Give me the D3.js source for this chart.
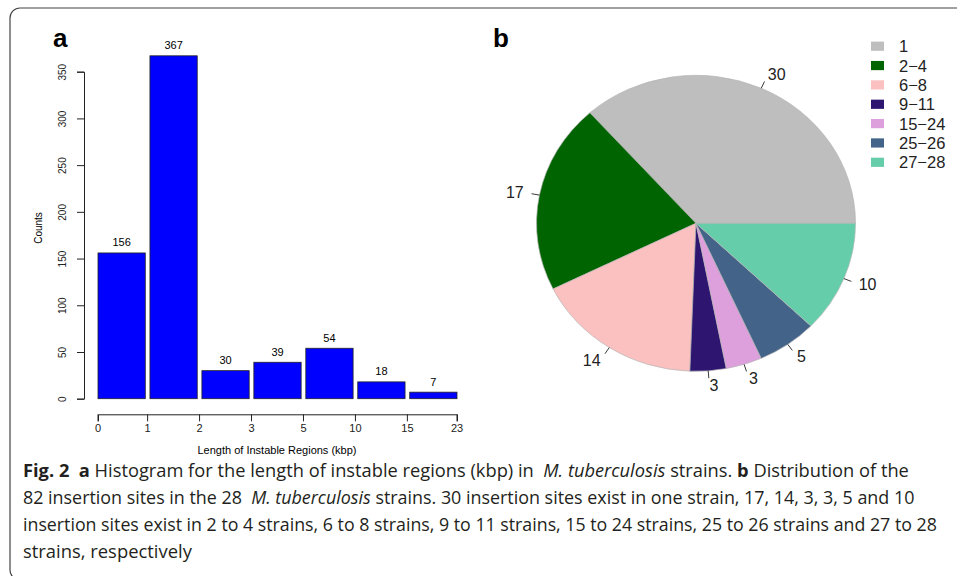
<!DOCTYPE html>
<html lang="en">
<head>
<meta charset="UTF-8">
<title>Fig. 2</title>
<script src="https://cdn.jsdelivr.net/npm/d3@7"></script>
<style>
  body { margin: 0; background: #fff; }
  svg text { font-family: "Liberation Sans", Arial, sans-serif; }
</style>
</head>
<body>
<script>
    // histogram data (panel a)
    var histCounts = [156, 367, 30, 39, 54, 18, 7];
    var binEdges = ["0", "1", "2", "3", "5", "10", "15", "23"];
    var yTicks = [0, 50, 100, 150, 200, 250, 300, 350];

    // pie data (panel b)
    var pieGroups = ["1", "2\u22124", "6\u22128", "9\u221211", "15\u221224", "25\u221226", "27\u221228"];
    var pieSites = [30, 17, 14, 3, 3, 5, 10];
    var pieColors = ["#bebebe", "#006400", "#fbc0c0", "#2d1570", "#dda0dd", "#436389", "#66cdaa"];

    var width = 957, height = 576;
    var svg = d3.select("body").append("svg")
            .attr("width", width)
            .attr("height", height);

    // frame with rounded corners (right and bottom sides run off the picture)
    svg.append("rect")
            .attr("x", 10).attr("y", 8)
            .attr("width", 965).attr("height", 572)
            .attr("rx", 10)
            .attr("fill", "none")
            .attr("stroke", "#444")
            .attr("stroke-width", 1.2);

    // ---------- panel a : histogram ----------
    var x = d3.scaleBand()
            .domain(d3.range(histCounts.length))
            .range([98, 457])
            .paddingInner(0.09);
    var y = d3.scaleLinear().domain([0, 350]).range([398.7, 71.7]);

    var gA = svg.append("g");

    gA.selectAll("rect.bar")
            .data(histCounts)
            .enter()
            .append("rect")
            .attr("class", "bar")
            .attr("x", function (d, i) { return x(i); })
            .attr("y", function (d) { return y(d); })
            .attr("width", x.bandwidth())
            .attr("height", function (d) { return y(0) - y(d); })
            .attr("fill", "#0000ff")
            .attr("stroke", "#222")
            .attr("stroke-width", 0.8);

    gA.selectAll("text.val")
            .data(histCounts)
            .enter()
            .append("text")
            .attr("class", "val")
            .attr("x", function (d, i) { return x(i) + x.bandwidth() / 2; })
            .attr("y", function (d) { return y(d) - 10.5; })
            .attr("dy", "0.35em")
            .attr("text-anchor", "middle")
            .attr("font-size", 11)
            .text(function (d) { return d; });

    // y axis (R style: rotated labels)
    var yAxis = d3.axisLeft(y).tickValues(yTicks).tickSize(7).tickPadding(4);
    var yg = gA.append("g").attr("transform", "translate(84,0)").call(yAxis);
    yg.select(".domain").attr("stroke", "#222");
    yg.selectAll(".tick line").attr("stroke", "#222");
    yg.selectAll(".tick text")
            .attr("font-size", 10)
            .attr("font-family", "Liberation Sans, Arial, sans-serif")
            .attr("fill", "#222")
            .attr("text-anchor", "middle")
            .attr("x", 0).attr("dy", 0)
            .attr("transform", "translate(-18,0) rotate(-90)");

    gA.append("text")
            .attr("transform", "translate(41.5,228) rotate(-90)")
            .attr("text-anchor", "middle")
            .attr("font-size", 10)
            .text("Counts");

    // x axis at bin boundaries
    var step = x.step(), gap = step - x.bandwidth();
    var edgeX = binEdges.map(function (e, i) {
        if (i === 0) return x(0);
        if (i === histCounts.length) return x(i - 1) + x.bandwidth();
        return x(i) - gap / 2;
    });
    var xe = d3.scalePoint().domain(binEdges).range([edgeX[0], edgeX[edgeX.length - 1]]);
    var xAxis = d3.axisBottom(xe).tickSize(7).tickPadding(3);
    var xg = gA.append("g").attr("transform", "translate(0,414.3)").call(xAxis);
    xg.select(".domain").attr("stroke", "#222");
    xg.selectAll(".tick").attr("transform", function (d, i) { return "translate(" + edgeX[i] + ",0)"; });
    xg.selectAll(".tick line").attr("stroke", "#222");
    xg.selectAll(".tick text")
            .attr("font-size", 11)
            .attr("font-family", "Liberation Sans, Arial, sans-serif")
            .attr("fill", "#222");

    gA.append("text")
            .attr("x", 277).attr("y", 454)
            .attr("text-anchor", "middle")
            .attr("font-size", 11)
            .text("Length of Instable Regions (kbp)");

    gA.append("text")
            .attr("x", 53).attr("y", 47)
            .attr("font-size", 26)
            .attr("font-weight", "bold")
            .text("a");

    // ---------- panel b : pie ----------
    var cx = 696, cy = 223.3, r = 159.5, ry = 148 / 159.5;

    var pie = d3.pie().sort(null)
            .startAngle(Math.PI / 2)
            .endAngle(Math.PI / 2 - 2 * Math.PI);
    var arcs = pie(pieSites);
    var arc = d3.arc().innerRadius(0).outerRadius(r);

    var gB = svg.append("g");
    gB.append("g")
            .attr("transform", "translate(" + cx + "," + cy + ") scale(1," + ry + ")")
            .selectAll("path")
            .data(arcs)
            .enter()
            .append("path")
            .attr("d", arc)
            .attr("fill", function (d, i) { return pieColors[i]; })
            .attr("stroke", "#b5b5b5")
            .attr("stroke-width", 0.7);

    function polar(a, k) {
        return [cx + Math.sin(a) * r * k, cy - Math.cos(a) * r * k * ry];
    }

    arcs.forEach(function (d) {
        var mid = (d.startAngle + d.endAngle) / 2;
        var p0 = polar(mid, 1), p1 = polar(mid, 1.05), p2 = polar(mid, 1.1);
        gB.append("line")
                .attr("x1", p0[0]).attr("y1", p0[1])
                .attr("x2", p1[0]).attr("y2", p1[1])
                .attr("stroke", "#222").attr("stroke-width", 0.9);
        gB.append("text")
                .attr("x", p2[0]).attr("y", p2[1])
                .attr("dy", "0.35em")
                .attr("text-anchor", Math.sin(mid) < 0 ? "end" : "start")
                .attr("font-size", 16)
                .attr("fill", "#222")
                .text(d.data);
    });

    // legend
    var leg = gB.selectAll("g.leg")
            .data(pieGroups)
            .enter()
            .append("g")
            .attr("class", "leg")
            .attr("transform", function (d, i) { return "translate(871," + (46.2 + i * 19.35) + ")"; });
    leg.append("rect")
            .attr("x", 0).attr("y", -4.6)
            .attr("width", 13).attr("height", 9.2)
            .attr("fill", function (d, i) { return pieColors[i]; });
    leg.append("text")
            .attr("x", 28).attr("dy", "0.36em")
            .attr("font-size", 16.5)
            .attr("fill", "#222")
            .text(function (d) { return d; });

    gB.append("text")
            .attr("x", 493).attr("y", 47)
            .attr("font-size", 26)
            .attr("font-weight", "bold")
            .text("b");

    // ---------- caption ----------
    var capLines = [
        [["b", "Fig. 2"], ["r", "  "], ["b", "a"], ["r", " Histogram for the length of instable regions (kbp) in  "],
            ["i", "M. tuberculosis"], ["r", " strains. "], ["b", "b"], ["r", " Distribution of the"]],
        [["r", "82 insertion sites in the 28  "], ["i", "M. tuberculosis"],
            ["r", " strains. 30 insertion sites exist in one strain, 17, 14, 3, 3, 5 and 10"]],
        [["r", "insertion sites exist in 2 to 4 strains, 6 to 8 strains, 9 to 11 strains, 15 to 24 strains, 25 to 26 strains and 27 to 28"]],
        [["r", "strains, respectively"]]
    ];
    var capRight = [910, 915, 938, 192];

    capLines.forEach(function (line, li) {
        var t = svg.append("text")
                .attr("x", 0)
                .attr("y", 0)
                .attr("font-size", 18.5)
                .attr("fill", "#231f20")
                .style("font-family", "'Open Sans', 'Noto Sans', sans-serif")
                .style("white-space", "pre");
        line.forEach(function (seg) {
            t.append("tspan")
                    .attr("font-weight", seg[0] === "b" ? "bold" : null)
                    .attr("font-style", seg[0] === "i" ? "italic" : null)
                    .text(seg[1]);
        });
        // squeeze the line to the width it has in the printed figure
        var w = t.node().getComputedTextLength();
        var sx = (capRight[li] - 23) / w;
        t.attr("transform", "translate(23," + (476.5 + li * 27) + ") scale(" + sx + ",1)");
    });
</script>
</body>
</html>
